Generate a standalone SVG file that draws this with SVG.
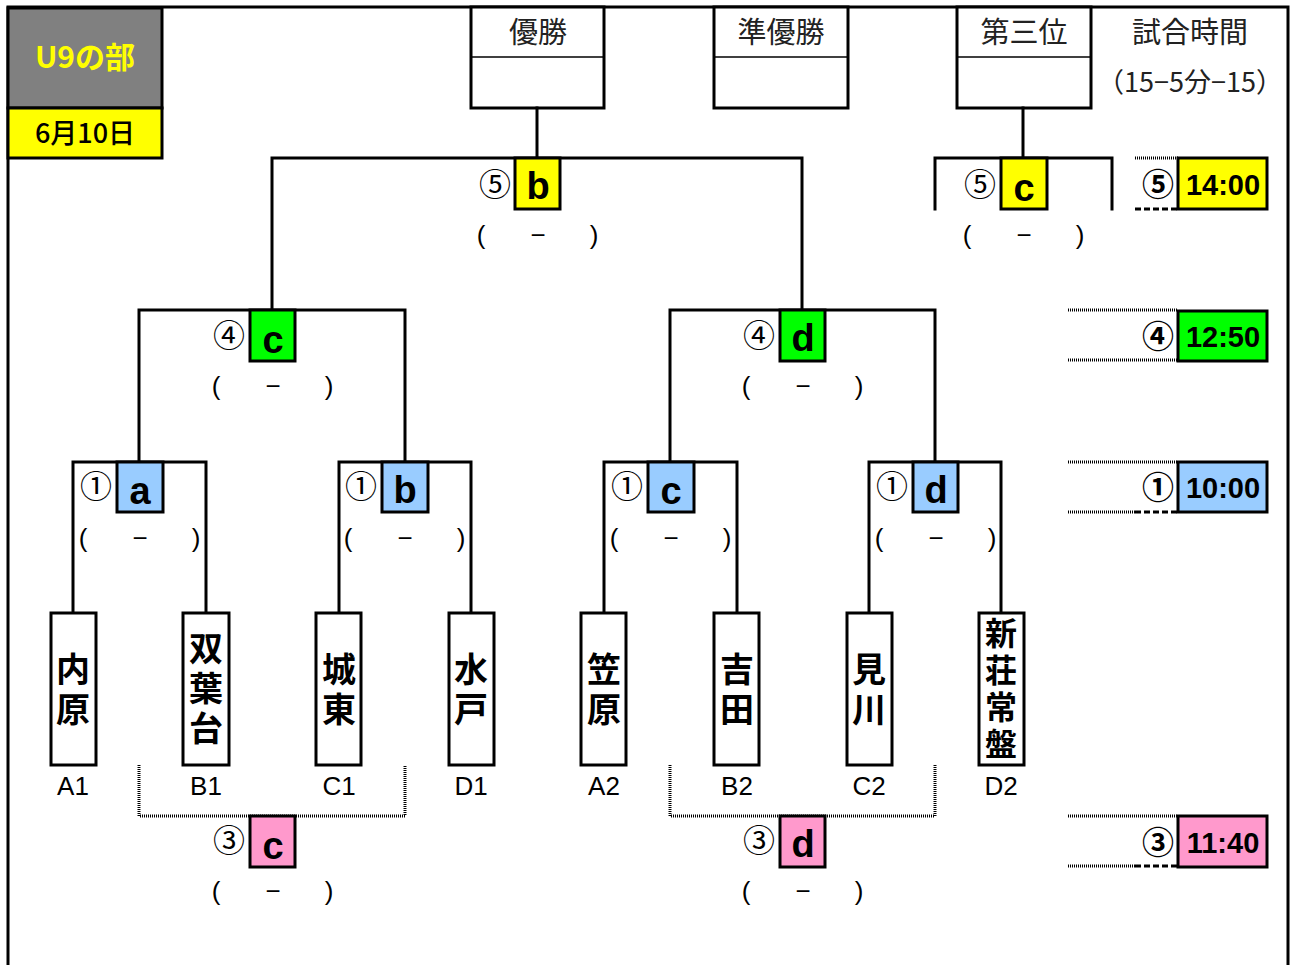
<svg xmlns="http://www.w3.org/2000/svg" width="1292" height="965" viewBox="0 0 1292 965">
<defs>
<g id="score">
<text x="-57" y="0" class="sc">(</text>
<text x="0" y="0" class="sc">−</text>
<text x="56" y="0" class="sc">)</text>
</g>
</defs>
<style>
.ln{stroke:#000;stroke-width:3;fill:none;stroke-linecap:square}
.dot{stroke:#000;stroke-width:3;fill:none;stroke-dasharray:1 1}
.dash{stroke:#000;stroke-width:3;fill:none;stroke-dasharray:6 3}
.bx{stroke:#000;stroke-width:3}
.jp{font-family:"Noto Sans CJK JP","Liberation Sans",sans-serif}
.hd{font-family:"Noto Sans CJK JP",sans-serif;font-size:29px;fill:#222;text-anchor:middle}
.lt{font-family:"Liberation Sans",Arial,sans-serif;font-weight:bold;font-size:38px;text-anchor:middle}
.cn{font-family:"Noto Sans CJK JP",sans-serif;font-size:32px;text-anchor:middle}
.sc{font-family:"Liberation Sans",Arial,sans-serif;font-size:26px;text-anchor:middle}
.tm{font-family:"Liberation Sans",Arial,sans-serif;font-size:29px;text-anchor:middle;font-weight:bold}
.tn{font-family:"Noto Sans CJK JP",sans-serif;font-weight:bold;font-size:34px;writing-mode:vertical-rl;text-anchor:middle;letter-spacing:6px}
.tn4{font-size:32px;letter-spacing:5px}
.lb{font-family:"Liberation Sans",Arial,sans-serif;font-size:26px;text-anchor:middle}
</style>
<rect x="0" y="0" width="1292" height="965" fill="#fff"/>
<g id="frame">
<path class="ln" d="M8,965 V7 H1288 V965"/>
</g>
<g id="title">
<rect x="8" y="8" width="154" height="100" fill="#808080" class="bx"/>
<text x="85" y="68" class="jp" font-size="30" font-weight="bold" fill="#FFFF00" text-anchor="middle">U9の部</text>
<rect x="8" y="108" width="154" height="50" fill="#FFFF00" class="bx"/>
<text x="85" y="143" class="jp" font-size="27" font-weight="500" fill="#000" text-anchor="middle">6月10日</text>
</g>
<g id="champion">
<rect x="471" y="7" width="133" height="101" fill="#fff" class="bx"/>
<line x1="471" y1="57" x2="604" y2="57" stroke="#000" stroke-width="1.5"/>
<text x="538" y="43" class="hd">優勝</text>
</g>
<g id="runnerup">
<rect x="714" y="7" width="134" height="101" fill="#fff" class="bx"/>
<line x1="714" y1="57" x2="848" y2="57" stroke="#000" stroke-width="1.5"/>
<text x="781" y="43" class="hd">準優勝</text>
</g>
<g id="third">
<rect x="957" y="7" width="134" height="101" fill="#fff" class="bx"/>
<line x1="957" y1="57" x2="1091" y2="57" stroke="#000" stroke-width="1.5"/>
<text x="1024" y="43" class="hd">第三位</text>
</g>
<g id="matchtime">
<text x="1190" y="43" class="hd">試合時間</text>
<text x="1190" y="92" class="jp" font-size="27" fill="#222" text-anchor="middle">（15−5分−15）</text>
</g>
<g id="connectors">
<path class="ln" d="M537,108 V158"/>
<path class="ln" d="M272,310 V158 H802 V310"/>
<path class="ln" d="M1023,108 V158"/>
<path class="ln" d="M935,209 V158 H1112 V209"/>
<path class="ln" d="M139,462 V310 H405 V462"/>
<path class="ln" d="M670,462 V310 H935 V462"/>
<path class="ln" d="M73,613 V462 H206 V613"/>
<path class="ln" d="M339,613 V462 H471 V613"/>
<path class="ln" d="M604,613 V462 H737 V613"/>
<path class="ln" d="M869,613 V462 H1001 V613"/>
<path class="dot" d="M139,765 V816 H405 V765"/>
<path class="dot" d="M670,765 V816 H935 V765"/>
<line class="dot" x1="1135" y1="158" x2="1178" y2="158"/>
<line class="dash" x1="1135" y1="209" x2="1178" y2="209"/>
<line class="dot" x1="1068" y1="310" x2="1178" y2="310"/>
<line class="dot" x1="1068" y1="360" x2="1178" y2="360"/>
<line class="dot" x1="1068" y1="462" x2="1178" y2="462"/>
<line class="dot" x1="1068" y1="512" x2="1135" y2="512"/>
<line class="dash" x1="1135" y1="512" x2="1178" y2="512"/>
<line class="dot" x1="1068" y1="816" x2="1178" y2="816"/>
<line class="dot" x1="1068" y1="866" x2="1135" y2="866"/>
<line class="dash" x1="1135" y1="866" x2="1178" y2="866"/>
</g>
<g id="m5b">
<rect x="515" y="158" width="45" height="51" fill="#FFFF00" class="bx"/>
<text x="538" y="199" class="lt">b</text>
<text x="495" y="196" class="cn">⑤</text>
<use href="#score" x="538" y="244"/>
</g>
<g id="m5c">
<rect x="1001" y="158" width="46" height="51" fill="#FFFF00" class="bx"/>
<text x="1024" y="201" class="lt">c</text>
<text x="980" y="196" class="cn">⑤</text>
<use href="#score" x="1024" y="244"/>
</g>
<g id="m4c">
<rect x="250" y="310" width="45" height="51" fill="#00FF00" class="bx"/>
<text x="273" y="353" class="lt">c</text>
<text x="229" y="347" class="cn">④</text>
<use href="#score" x="273" y="395"/>
</g>
<g id="m4d">
<rect x="780" y="310" width="45" height="51" fill="#00FF00" class="bx"/>
<text x="803" y="351" class="lt">d</text>
<text x="759" y="347" class="cn">④</text>
<use href="#score" x="803" y="395"/>
</g>
<g id="m1a">
<rect x="117" y="462" width="46" height="50" fill="#99CCFF" class="bx"/>
<text x="140" y="504" class="lt">a</text>
<text x="96" y="498" class="cn">①</text>
<use href="#score" x="140" y="547"/>
</g>
<g id="m1b">
<rect x="382" y="462" width="46" height="50" fill="#99CCFF" class="bx"/>
<text x="405" y="503" class="lt">b</text>
<text x="361" y="498" class="cn">①</text>
<use href="#score" x="405" y="547"/>
</g>
<g id="m1c">
<rect x="648" y="462" width="46" height="50" fill="#99CCFF" class="bx"/>
<text x="671" y="504" class="lt">c</text>
<text x="627" y="498" class="cn">①</text>
<use href="#score" x="671" y="547"/>
</g>
<g id="m1d">
<rect x="913" y="462" width="45" height="50" fill="#99CCFF" class="bx"/>
<text x="936" y="503" class="lt">d</text>
<text x="892" y="498" class="cn">①</text>
<use href="#score" x="936" y="547"/>
</g>
<g id="m3c">
<rect x="250" y="816" width="45" height="51" fill="#FF99CC" class="bx"/>
<text x="273" y="859" class="lt">c</text>
<text x="229" y="852" class="cn">③</text>
<use href="#score" x="273" y="900"/>
</g>
<g id="m3d">
<rect x="780" y="816" width="45" height="51" fill="#FF99CC" class="bx"/>
<text x="803" y="857" class="lt">d</text>
<text x="759" y="852" class="cn">③</text>
<use href="#score" x="803" y="900"/>
</g>
<g id="t5">
<rect x="1178" y="158" width="89" height="51" fill="#FFFF00" class="bx"/>
<text x="1223" y="195" class="tm">14:00</text>
<text x="1158" y="196" class="cn" font-weight="bold">⑤</text>
</g>
<g id="t4">
<rect x="1178" y="311" width="89" height="50" fill="#00FF00" class="bx"/>
<text x="1223" y="347" class="tm">12:50</text>
<text x="1158" y="348" class="cn" font-weight="bold">④</text>
</g>
<g id="t1">
<rect x="1178" y="462" width="89" height="50" fill="#99CCFF" class="bx"/>
<text x="1223" y="498" class="tm">10:00</text>
<text x="1158" y="499" class="cn" font-weight="bold">①</text>
</g>
<g id="t3">
<rect x="1178" y="816" width="89" height="51" fill="#FF99CC" class="bx"/>
<text x="1223" y="853" class="tm">11:40</text>
<text x="1158" y="854" class="cn" font-weight="bold">③</text>
</g>
<g id="teamA1">
<rect x="51" y="613" width="45" height="152" fill="#fff" class="bx"/>
<text x="73" y="692" class="tn">内原</text>
<text x="73" y="795" class="lb">A1</text>
</g>
<g id="teamB1">
<rect x="183" y="613" width="46" height="152" fill="#fff" class="bx"/>
<text x="206" y="691" class="tn">双葉台</text>
<text x="206" y="795" class="lb">B1</text>
</g>
<g id="teamC1">
<rect x="316" y="613" width="45" height="152" fill="#fff" class="bx"/>
<text x="339" y="692" class="tn">城東</text>
<text x="339" y="795" class="lb">C1</text>
</g>
<g id="teamD1">
<rect x="449" y="613" width="45" height="152" fill="#fff" class="bx"/>
<text x="471" y="692" class="tn">水戸</text>
<text x="471" y="795" class="lb">D1</text>
</g>
<g id="teamA2">
<rect x="581" y="613" width="45" height="152" fill="#fff" class="bx"/>
<text x="604" y="692" class="tn">笠原</text>
<text x="604" y="795" class="lb">A2</text>
</g>
<g id="teamB2">
<rect x="714" y="613" width="45" height="152" fill="#fff" class="bx"/>
<text x="737" y="692" class="tn">吉田</text>
<text x="737" y="795" class="lb">B2</text>
</g>
<g id="teamC2">
<rect x="847" y="613" width="45" height="152" fill="#fff" class="bx"/>
<text x="869" y="692" class="tn">見川</text>
<text x="869" y="795" class="lb">C2</text>
</g>
<g id="teamD2">
<rect x="979" y="613" width="45" height="152" fill="#fff" class="bx"/>
<text x="1001" y="691" class="tn tn4">新荘常盤</text>
<text x="1001" y="795" class="lb">D2</text>
</g>
</svg>
